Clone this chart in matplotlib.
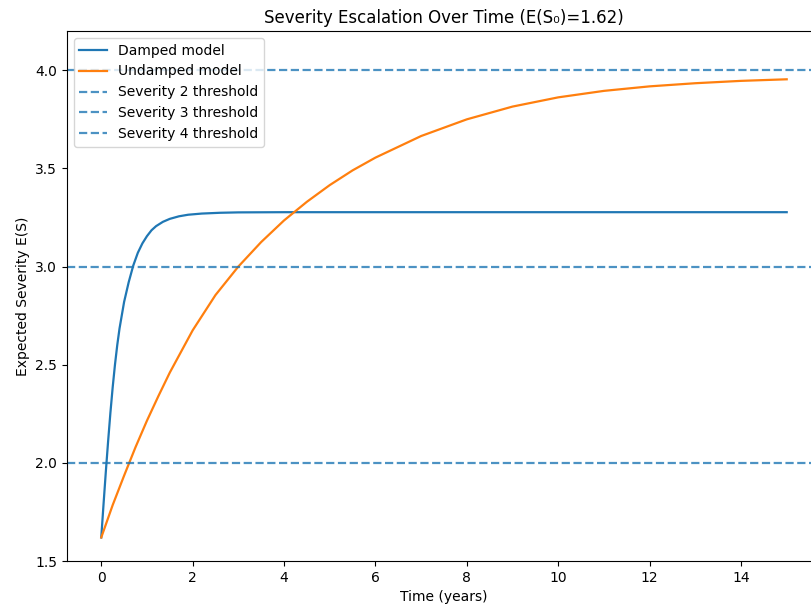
import matplotlib
matplotlib.use('Agg')
import matplotlib.pyplot as plt

# values
t_damped = [0, 0.05, 0.1, 0.15, 0.2, 0.25, 0.3, 0.35, 0.4, 0.5, 0.6, 0.7,
            0.8, 0.9, 1.0, 1.1, 1.2, 1.35, 1.5, 1.7, 1.9, 2.2, 2.6, 3.0,
            4.0, 15.0]
e_damped = [1.62, 1.79, 1.955, 2.11, 2.255, 2.385, 2.5, 2.6, 2.685, 2.82,
            2.92, 3.005, 3.07, 3.118, 3.155, 3.185, 3.206, 3.228, 3.243,
            3.256, 3.264, 3.27, 3.274, 3.276, 3.277, 3.277]

t_undamped = [0, 0.25, 0.5, 0.75, 1.0, 1.25, 1.5, 2.0, 2.5, 3.0, 3.5, 4.0,
              4.5, 5.0, 5.5, 6.0, 7.0, 8.0, 9.0, 10.0, 11.0, 12.0, 13.0,
              14.0, 15.0]
e_undamped = [1.62, 1.785, 1.935, 2.08, 2.215, 2.34, 2.46, 2.675, 2.855,
              3.0, 3.125, 3.235, 3.33, 3.415, 3.49, 3.555, 3.665, 3.75,
              3.815, 3.862, 3.895, 3.918, 3.934, 3.946, 3.954]

thresholds = [2.0, 3.0, 4.0]
threshold_labels = ['Severity 2 threshold', 'Severity 3 threshold', 'Severity 4 threshold']

fig = plt.figure(figsize=(8.11, 6.08), dpi=100)
ax = fig.add_axes([0.0826, 0.0773, 0.9297, 0.8717])

ax.plot(t_damped, e_damped, label='Damped model', lw=1.6)
ax.plot(t_undamped, e_undamped, label='Undamped model', lw=1.6)
for th, lab in zip(thresholds, threshold_labels):
    ax.axhline(th, color='C0', linestyle='--', lw=1.6, alpha=0.8, label=lab)

ax.set_ylim(1.5, 4.2)
ax.set_xlabel('Time (years)')
ax.set_ylabel('Expected Severity E(S)')
ax.set_title('Severity Escalation Over Time (E(S\u2080)=1.62)')
ax.legend(loc='upper left')

fig.savefig('out.png', dpi=100)
